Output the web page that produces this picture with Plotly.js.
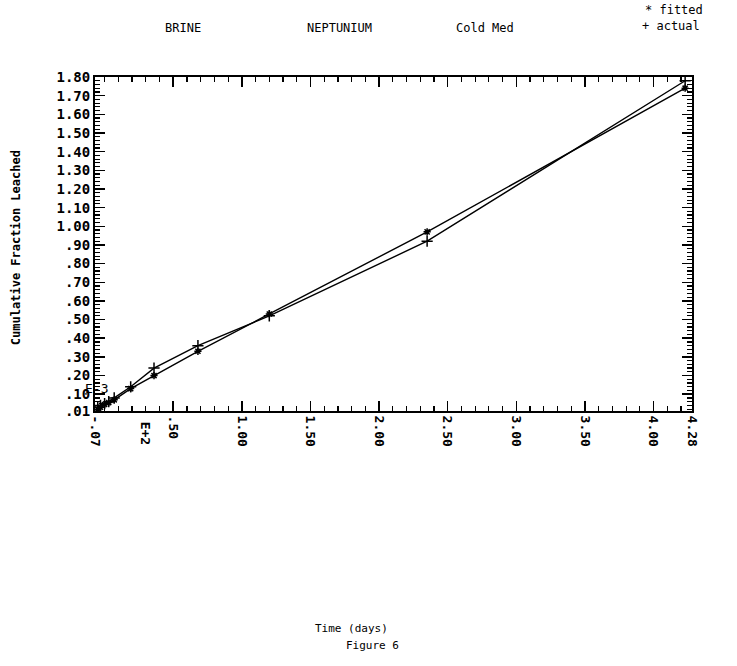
<!DOCTYPE html>
<html>
<head>
<meta charset="utf-8">
<script src="https://cdn.plot.ly/plotly-3.0.1.min.js"></script>
<style>html,body{margin:0;padding:0;background:#fff;}#chart{width:737px;height:666px;}</style>
</head>
<body>
<div id="chart"></div>
<script>
// Time in units of E+2 days
const timeDays = [-0.05, -0.03, 0.0, 0.03, 0.07, 0.19, 0.36, 0.68, 1.2, 2.35, 4.23];
// Cumulative fraction leached, units of E-3
const fittedVals = [0.02, 0.03, 0.045, 0.055, 0.07, 0.13, 0.20, 0.33, 0.53, 0.97, 1.74];
const actualVals = [0.03, 0.04, 0.05, 0.06, 0.08, 0.14, 0.24, 0.36, 0.52, 0.92, 1.78];

const yTickVals = [0.01, 0.1, 0.2, 0.3, 0.4, 0.5, 0.6, 0.7, 0.8, 0.9, 1.0, 1.1, 1.2, 1.3, 1.4, 1.5, 1.6, 1.7, 1.8];
const yTickText = [".01", ".10", ".20", ".30", ".40", ".50", ".60", ".70", ".80", ".90", "1.00", "1.10", "1.20", "1.30", "1.40", "1.50", "1.60", "1.70", "1.80"];
const xTickVals = [-0.07, 0.5, 1.0, 1.5, 2.0, 2.5, 3.0, 3.5, 4.0, 4.28];
const xTickText = ["-.07", ".50", "1.00", "1.50", "2.00", "2.50", "3.00", "3.50", "4.00", "4.28"];

const mono = "DejaVu Sans Mono, monospace";

const traces = [
  {
    x: timeDays, y: fittedVals, name: "fitted", type: "scatter", mode: "lines+markers",
    line: {color: "#000", width: 1.4},
    marker: {symbol: "asterisk-open", size: 6, color: "#000", line: {color: "#000", width: 1.5}}
  },
  {
    x: timeDays, y: actualVals, name: "actual", type: "scatter", mode: "lines+markers",
    line: {color: "#000", width: 1.4},
    marker: {symbol: "cross-thin-open", size: 8, color: "#000", line: {color: "#000", width: 1.5}}
  }
];

const txt = (s, x, y, extra) => Object.assign({text: s, xref: "paper", yref: "paper", x: x, y: y,
  xanchor: "center", yanchor: "middle", showarrow: false, font: {family: mono, size: 12, color: "#000"}}, extra || {});

const layout = {
  width: 737, height: 666,
  margin: {l: 95, r: 45, t: 77, b: 255},
  paper_bgcolor: "#fff", plot_bgcolor: "#fff",
  showlegend: false,
  font: {family: mono, color: "#000", size: 13},
  xaxis: {
    range: [-0.07, 4.28], showgrid: false, zeroline: false,
    showline: true, linecolor: "#000", linewidth: 2, mirror: "ticks",
    ticks: "inside", ticklen: 10, tickwidth: 1.5, tickcolor: "#000",
    tickvals: xTickVals, ticktext: xTickText, tickangle: 90,
    tickfont: {family: mono, size: 13, color: "#000", weight: "bold"},
    minor: {ticks: "inside", dtick: 0.1, tick0: 0, ticklen: 5, tickwidth: 1.2, tickcolor: "#000", showgrid: false}
  },
  yaxis: {
    range: [0.01, 1.80], showgrid: false, zeroline: false,
    showline: true, linecolor: "#000", linewidth: 2, mirror: "ticks",
    ticks: "inside", ticklen: 10, tickwidth: 1.5, tickcolor: "#000",
    tickvals: yTickVals, ticktext: yTickText,
    tickfont: {family: mono, size: 14, color: "#000", weight: "bold"},
    minor: {ticks: "inside", dtick: 0.02, tick0: 0, ticklen: 5, tickwidth: 1.2, tickcolor: "#000", showgrid: false}
  },
  annotations: [
    txt("BRINE", 0.147, 1.147),
    txt("NEPTUNIUM", 0.41, 1.147),
    txt("Cold Med", 0.653, 1.147),
    txt("* fitted", 0.918, 1.2, {xanchor: "left"}),
    txt("+ actual", 0.913, 1.153, {xanchor: "left"}),
    txt("E-3", 0.003, 0.068, {font: {family: mono, size: 13, color: "#000"}}),
    txt("E+2", 0.084, -0.025, {yanchor: "top", textangle: 90, font: {family: mono, size: 13, color: "#000", weight: "bold"}}),
    txt("Cumulative Fraction Leached", -0.131, 0.49, {textangle: -90, font: {family: mono, size: 12, color: "#000", weight: "bold"}}),
    txt("Time (days)", 0.43, -0.65, {font: {family: mono, size: 11, color: "#000"}}),
    txt("Figure 6", 0.464, -0.703, {font: {family: mono, size: 11, color: "#000"}})
  ]
};

Plotly.newPlot("chart", traces, layout, {staticPlot: true, displayModeBar: false});
</script>
</body>
</html>
